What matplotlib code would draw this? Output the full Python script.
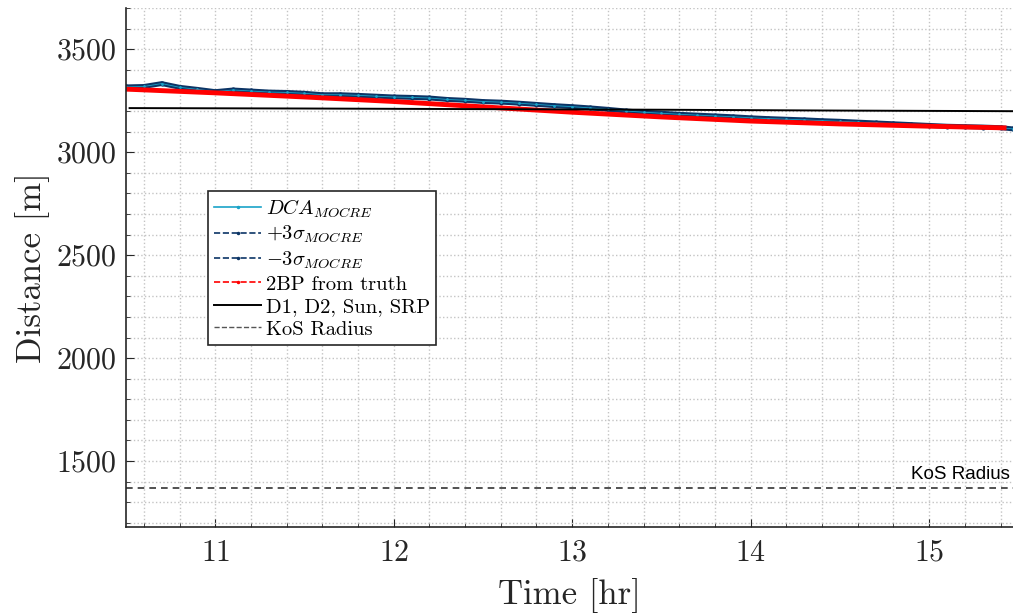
import matplotlib
matplotlib.use("Agg")
import matplotlib.pyplot as plt
from matplotlib.lines import Line2D
from matplotlib.ticker import MultipleLocator

plt.rcParams["font.family"] = "serif"
plt.rcParams["font.serif"] = ["cmr10"]
plt.rcParams["mathtext.fontset"] = "cm"
plt.rcParams["axes.formatter.use_mathtext"] = True

# DCA estimate from MOCRE [hr, m]
t_dca = [10.5, 10.6, 10.7, 10.8, 10.9, 11.0, 11.1, 11.2, 11.3, 11.4,
         11.5, 11.6, 11.7, 11.8, 11.9, 12.0, 12.1, 12.2, 12.3, 12.4,
         12.5, 12.6, 12.7, 12.8, 12.9, 13.0, 13.1, 13.2, 13.3, 13.4,
         13.5, 13.6, 13.7, 13.8, 13.9, 14.0, 14.1, 14.2, 14.3, 14.4,
         14.5, 14.6, 14.7, 14.8, 14.9, 15.0, 15.1, 15.2, 15.3, 15.4, 15.47]
dca = [3317, 3319, 3333, 3315, 3305, 3294, 3302, 3297, 3292, 3290,
       3286, 3279, 3279, 3276, 3272, 3268, 3266, 3263, 3256, 3252,
       3246, 3243, 3238, 3232, 3226, 3221, 3215, 3208, 3200, 3194,
       3189, 3184, 3180, 3176, 3172, 3167, 3163, 3160, 3157, 3153,
       3150, 3146, 3142, 3138, 3134, 3130, 3126, 3124, 3122, 3119, 3113]
sigma3 = 2.5

# two-body propagation from truth
t_2bp = [10.5, 11.0, 11.5, 12.0, 12.5, 13.0, 13.5, 14.0, 14.5, 15.0, 15.42]
d_2bp = [3306, 3288, 3268, 3246, 3220, 3194, 3171, 3151, 3137, 3126, 3118]

# full-force model (D1, D2, Sun, SRP)
t_full = [10.52, 11.5, 12.5, 13.5, 14.5, 15.47]
d_full = [3214, 3212, 3209, 3206, 3202, 3199]

kos_radius = 1370

cyan = "#1aa3c8"
navy = "#0c3566"

fig = plt.figure(figsize=(10.13, 6.16), dpi=100)
ax = fig.add_axes([0.1244, 0.1445, 0.8756, 0.8425])

sig_hi = [d + sigma3 for d in dca]
sig_lo = [d - sigma3 for d in dca]
ax.plot(t_dca, sig_hi, "-", color=navy, lw=2.8, marker=".", ms=4)
ax.plot(t_dca, sig_lo, "-", color=navy, lw=2.8, marker=".", ms=4)
ax.plot(t_dca, dca, "-", color=cyan, lw=0.6, marker=".", ms=2)
ax.plot(t_2bp, d_2bp, "-", color="red", lw=3.5)
ax.plot(t_full, d_full, "-", color="black", lw=1.4)
ax.axhline(kos_radius, color="#333333", lw=1.2, ls=(0, (4, 3)))
ax.text(15.455, kos_radius + 22, "KoS Radius", ha="right", va="bottom",
        fontsize=13.5, family="Liberation Sans")

ax.set_xlim(10.5, 15.47)
ax.set_ylim(1180, 3700)
ax.xaxis.set_major_locator(MultipleLocator(1))
ax.xaxis.set_minor_locator(MultipleLocator(0.2))
ax.yaxis.set_major_locator(MultipleLocator(500))
ax.yaxis.set_minor_locator(MultipleLocator(100))
ax.grid(True, which="both", color="#c4c4c4", ls=":", lw=1.0)
ax.tick_params(which="both", direction="in", labelsize=21.5, color="#262626",
               labelcolor="#262626")
ax.tick_params(which="major", length=6)
ax.tick_params(which="minor", length=3)
ax.tick_params(axis="x", pad=9)
ax.tick_params(axis="y", pad=7)
ax.spines["top"].set_visible(False)
ax.spines["right"].set_visible(False)
for s in ("left", "bottom"):
    ax.spines[s].set_linewidth(1.2)
    ax.spines[s].set_color("#262626")

ax.set_xlabel("Time [hr]", fontsize=25, labelpad=8, color="#262626")
ax.set_ylabel("Distance [m]", fontsize=25, labelpad=4, color="#262626")

handles = [
    Line2D([], [], color=cyan, lw=1.2, marker=".", ms=3),
    Line2D([], [], color=navy, lw=1.2, ls="--", marker=".", ms=3),
    Line2D([], [], color=navy, lw=1.2, ls="--", marker=".", ms=3),
    Line2D([], [], color="red", lw=1.2, ls="--", marker=".", ms=3),
    Line2D([], [], color="black", lw=1.4),
    Line2D([], [], color="#555555", lw=1.0, ls="--"),
]
labels = [r"$DCA_{MOCRE}$", r"$+3\sigma_{MOCRE}$", r"$-3\sigma_{MOCRE}$",
          "2BP from truth", "D1, D2, Sun, SRP", "KoS Radius"]
leg = ax.legend(handles, labels, loc="upper left", bbox_to_anchor=(0.0924, 0.647),
                borderaxespad=0, fontsize=14.8, handlelength=2.3, handletextpad=0.2,
                labelspacing=0.2, borderpad=0.3, fancybox=False, framealpha=1,
                edgecolor="#262626")
leg.get_frame().set_linewidth(1.2)

fig.savefig("out.png", dpi=100)
